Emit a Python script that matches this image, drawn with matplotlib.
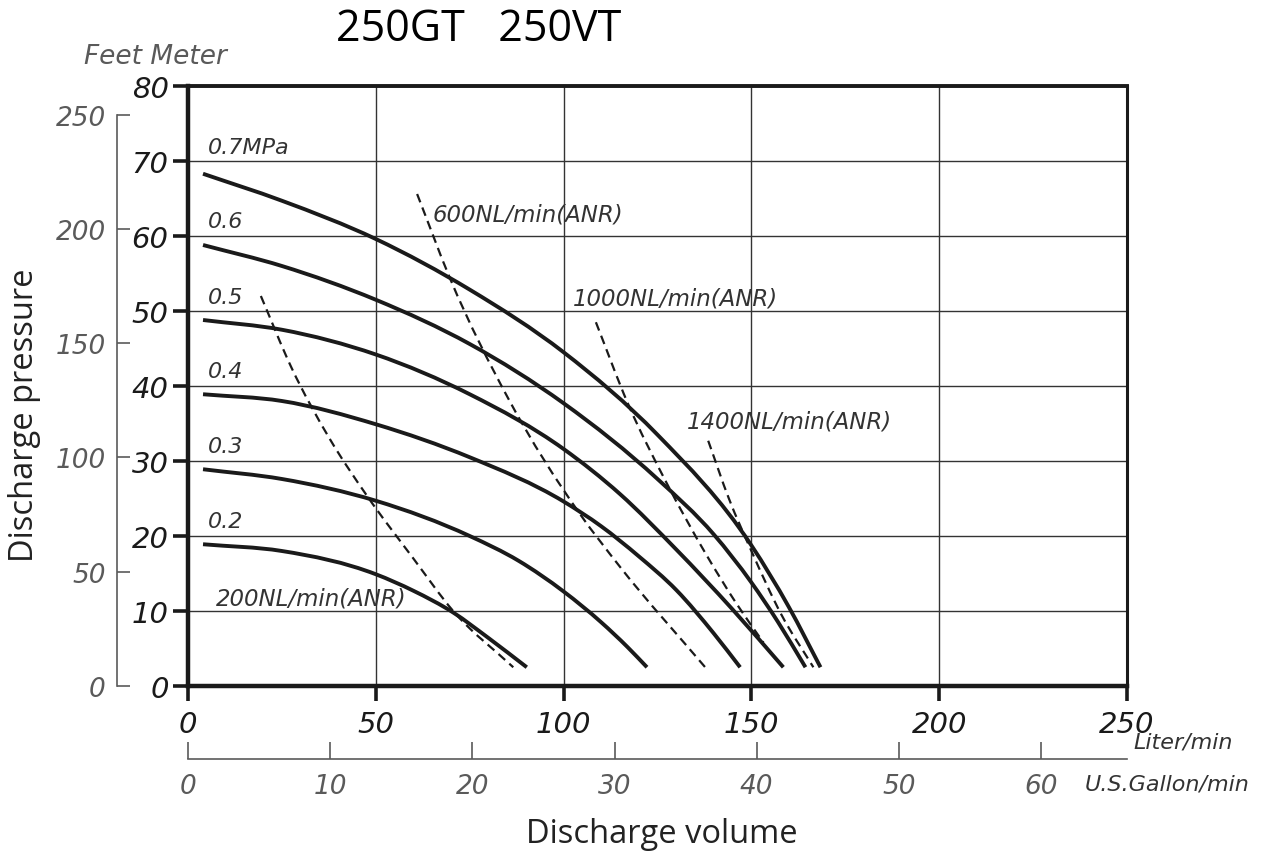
import matplotlib
matplotlib.use("Agg")
import matplotlib.pyplot as plt
from matplotlib.path import Path
from matplotlib.patches import PathPatch

# ---------------- data ----------------
title = "250GT   250VT"
pressure_labels = ["0.7MPa", "0.6", "0.5", "0.4", "0.3", "0.2"]
label_levels = [70, 60, 50, 40, 30, 20]

q07 = [4, 25, 50, 75, 100, 125, 150, 160, 168.4]
h07 = [68.3, 64.7, 59.6, 52.85, 44.5, 33.5, 18.75, 10.5, 2.5]
q06 = [4, 25, 50, 75, 100, 125, 140, 150, 157, 164.4]
h06 = [58.8, 56.0, 51.5, 45.6, 37.7, 27.6, 20.2, 13.8, 8.6, 2.5]
q05 = [4, 25, 50, 75, 100, 115, 130, 145, 158.5]
h05 = [48.8, 47.5, 44.2, 38.9, 31.6, 25.6, 18.2, 10.2, 2.5]
q04 = [4, 25, 50, 75, 100, 110, 120, 130, 140, 147]
h04 = [38.9, 38.0, 34.9, 30.5, 24.6, 21.3, 17.3, 12.8, 7.0, 2.5]
q03 = [4, 25, 50, 75, 88, 100, 110, 117, 122.2]
h03 = [28.9, 27.6, 24.7, 20.0, 16.7, 12.6, 8.5, 5.2, 2.5]
q02 = [4, 25, 50, 60, 70.6, 80, 90.2]
h02 = [18.9, 18.0, 14.9, 12.7, 9.8, 6.4, 2.5]

air_labels = ["200NL/min(ANR)", "600NL/min(ANR)", "1000NL/min(ANR)", "1400NL/min(ANR)"]
a200_q = [19.4, 27.5, 37.8, 47.6, 60, 70.6, 86.6]
a200_h = [52.0, 42.5, 32.9, 25.4, 17.0, 10.0, 2.5]
a600_q = [61, 69.8, 85.3, 104.4, 115, 137.7]
a600_h = [65.6, 54.3, 38.3, 22.9, 15.9, 2.5]
a1000_q = [108.6, 117, 127.5, 138, 146, 153.2]
a1000_h = [48.5, 37.8, 27.0, 17.5, 11.0, 5.8]
a1400_q = [138.5, 144, 150, 158, 166.5]
a1400_h = [32.7, 25.0, 18.0, 9.5, 2.5]

x_ticks = [0, 50, 100, 150, 200, 250]
y_ticks = [0, 10, 20, 30, 40, 50, 60, 70, 80]
feet_ticks = [0, 50, 100, 150, 200, 250]
gal_ticks = [0, 10, 20, 30, 40, 50, 60]

# ---------------- figure ----------------
W, H = 1267, 854
fig = plt.figure(figsize=(W / 100, H / 100), dpi=100)


def fx(px):
    return px / W


def fy(py):
    return 1 - py / H


ink = "#1a1a1a"
gray = "#5a5a5a"


def smooth_path(xs, ys):
    """Cubic Hermite (Bezier) path through the read points."""
    n = len(xs)
    h = [xs[i + 1] - xs[i] for i in range(n - 1)]
    d = [(ys[i + 1] - ys[i]) / h[i] for i in range(n - 1)]
    m = [d[0]]
    for i in range(1, n - 1):
        m.append((d[i - 1] * h[i] + d[i] * h[i - 1]) / (h[i - 1] + h[i]))
    m.append(d[-1])
    verts = [(xs[0], ys[0])]
    codes = [Path.MOVETO]
    for i in range(n - 1):
        t = h[i] / 3
        verts += [(xs[i] + t, ys[i] + m[i] * t),
                  (xs[i + 1] - t, ys[i + 1] - m[i + 1] * t),
                  (xs[i + 1], ys[i + 1])]
        codes += [Path.CURVE4] * 3
    return Path(verts, codes)


ax = fig.add_axes([fx(188), fy(687), fx(1127) - fx(188), fy(87) - fy(687)])
ax.set_xlim(0, 250)
ax.set_ylim(0, 80)
ax.set_xticks(x_ticks)
ax.set_yticks(y_ticks)
ax.grid(True, color="#333333", linewidth=1.0)
ax.set_axisbelow(True)
for s, lw in [("left", 3.2), ("bottom", 3.2), ("top", 2.8), ("right", 2.2)]:
    ax.spines[s].set_linewidth(lw)
    ax.spines[s].set_color(ink)
ax.tick_params(axis="both", direction="out", length=11, width=2.6, color=ink,
               labelsize=21, labelcolor=ink)
ax.tick_params(axis="x", pad=6)
ax.tick_params(axis="y", pad=3)
for t in ax.get_xticklabels() + ax.get_yticklabels():
    t.set_fontstyle("italic")

curves = [(q07, h07), (q06, h06), (q05, h05), (q04, h04), (q03, h03), (q02, h02)]
for q, hh in curves:
    ax.add_patch(PathPatch(smooth_path(q, hh), facecolor="none", edgecolor=ink,
                           linewidth=2.8, capstyle="butt", zorder=3))

for lab, lev in zip(pressure_labels, label_levels):
    ax.text(5.3, lev + 0.6, lab, fontsize=16, fontstyle="italic", color="#333333",
            ha="left", va="bottom", zorder=4)

airs = [(a200_q, a200_h), (a600_q, a600_h), (a1000_q, a1000_h), (a1400_q, a1400_h)]
for q, hh in airs:
    ax.add_patch(PathPatch(smooth_path(q, hh), facecolor="none", edgecolor=ink,
                           linewidth=1.6, linestyle=(0, (4, 2.5)), zorder=3))

air_pos = [(7.5, 10.9), (65.0, 62.0), (102.5, 50.9), (132.8, 34.5)]
for lab, (xx, yy) in zip(air_labels, air_pos):
    ax.text(xx, yy, lab, fontsize=16.5, fontstyle="italic", color="#333333",
            ha="left", va="baseline", zorder=4)

# feet axis
axf = fig.add_axes([fx(117), fy(687), 0.01, fy(87) - fy(687)])
axf.set_ylim(0, 80 / 0.3048)
axf.patch.set_visible(False)
for s in ["top", "right", "bottom"]:
    axf.spines[s].set_visible(False)
axf.spines["left"].set_bounds(0, 250)
axf.spines["left"].set_color(gray)
axf.spines["left"].set_linewidth(1.2)
axf.set_xticks([])
axf.set_yticks(feet_ticks)
axf.tick_params(axis="y", direction="in", length=9, width=1.2, color=gray,
                labelsize=19, labelcolor=gray, pad=8)
for t in axf.get_yticklabels():
    t.set_fontstyle("italic")

# gallon axis
axg = fig.add_axes([fx(188), fy(760), fx(1127) - fx(188), 0.01])
axg.set_xlim(0, 250 / 3.78541)
axg.patch.set_visible(False)
for s in ["top", "right", "left"]:
    axg.spines[s].set_visible(False)
axg.spines["bottom"].set_color(gray)
axg.spines["bottom"].set_linewidth(1.2)
axg.set_yticks([])
axg.set_xticks(gal_ticks)
axg.tick_params(axis="x", direction="in", length=12, width=1.2, color=gray,
                labelsize=19, labelcolor=gray, pad=10)
for t in axg.get_xticklabels():
    t.set_fontstyle("italic")

# texts
fig.text(fx(479), fy(30), title, fontsize=31, family="Open Sans", color="black",
         ha="center", va="center")
fig.text(fx(155), fy(57), "Feet Meter", fontsize=19, fontstyle="italic", color=gray,
         ha="center", va="center")
fig.text(fx(1133), fy(743), "Liter/min", fontsize=16, fontstyle="italic", color="#333333",
         ha="left", va="center")
fig.text(fx(1085), fy(785), "U.S.Gallon/min", fontsize=16, fontstyle="italic", color="#333333",
         ha="left", va="center")
fig.text(fx(25), fy(415), "Discharge pressure", fontsize=23.5, family="Open Sans",
         color="#222222", rotation=90, ha="center", va="center")
fig.text(fx(662), fy(835), "Discharge volume", fontsize=23.5, family="Open Sans",
         color="#222222", ha="center", va="center")

fig.savefig("out.png", dpi=100)
